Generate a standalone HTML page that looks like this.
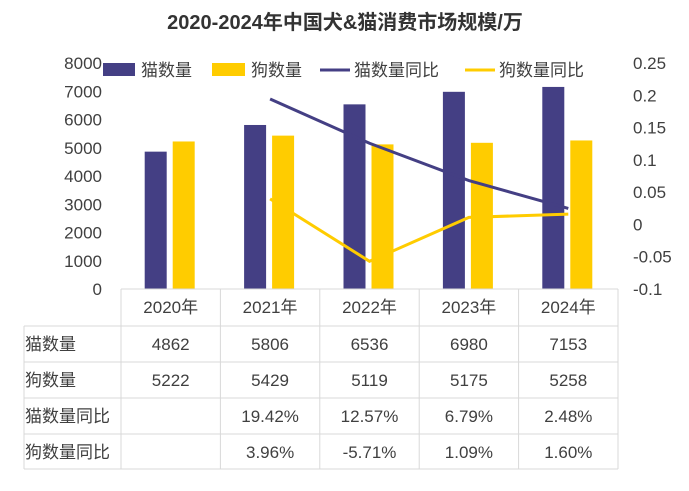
<!DOCTYPE html>
<html><head><meta charset="utf-8"><style>
body{margin:0;background:#fff;font-family:"Liberation Sans","Noto Sans CJK SC",sans-serif;}
svg text{font-family:"Liberation Sans","Noto Sans CJK SC",sans-serif;fill:#404040;}
</style></head><body>
<svg id="c" width="689" height="486" viewBox="0 0 689 486" xmlns="http://www.w3.org/2000/svg">
<text x="345" y="29" text-anchor="middle" font-size="20" font-weight="bold" style="fill:#333">2020-2024年中国犬&amp;猫消费市场规模/万</text>
<g>
<rect x="103" y="63" width="32" height="13" fill="#443F84"/>
<text x="141" y="76" font-size="17">猫数量</text>
<rect x="212" y="63" width="33" height="13" fill="#FFCC00"/>
<text x="251" y="76" font-size="17">狗数量</text>
<line x1="320" y1="70" x2="350" y2="70" stroke="#443F84" stroke-width="3"/>
<text x="354" y="76" font-size="17">猫数量同比</text>
<line x1="465" y1="70" x2="495" y2="70" stroke="#FFCC00" stroke-width="3"/>
<text x="499" y="76" font-size="17">狗数量同比</text>
</g>
<g id="plot"></g>
<g id="table"></g>
</svg>
<script>
const years=["2020年","2021年","2022年","2023年","2024年"];
const catCount=[4862,5806,6536,6980,7153];
const dogCount=[5222,5429,5119,5175,5258];
const catYoy=[null,0.1942,0.1257,0.0679,0.0248];
const dogYoy=[null,0.0396,-0.0571,0.0109,0.0160];
const leftTicks=[0,1000,2000,3000,4000,5000,6000,7000,8000];
const rightTicks=[-0.1,-0.05,0,0.05,0.1,0.15,0.2,0.25];
const catYoyLabels=["","19.42%","12.57%","6.79%","2.48%"];
const dogYoyLabels=["","3.96%","-5.71%","1.09%","1.60%"];
const NS="http://www.w3.org/2000/svg";
const tx0=121,colW=99.4,yBase=289,yTop=63;
const yL=v=>yBase-(v/8000)*(yBase-yTop);
const yR=v=>yBase-((v+0.1)/0.35)*(yBase-yTop);
const xC=i=>tx0+colW*(i+0.5);
function mk(t,a,p){const e=document.createElementNS(NS,t);for(const k in a)e.setAttribute(k,a[k]);p.appendChild(e);return e;}
const plot=document.getElementById('plot'),table=document.getElementById('table');
leftTicks.forEach(v=>{const e=mk('text',{x:102,y:yL(v)+6,'text-anchor':'end','font-size':17},plot);e.textContent=v;

});
rightTicks.forEach(v=>{const e=mk('text',{x:633,y:yR(v)+6,'font-size':17},plot);e.textContent=String(v);

});
years.forEach((y,i)=>{
const c=mk('rect',{x:xC(i)-26,y:yL(catCount[i]),width:22,height:yBase-yL(catCount[i]),fill:'#443F84'},plot);


const d=mk('rect',{x:xC(i)+2,y:yL(dogCount[i]),width:22,height:yBase-yL(dogCount[i]),fill:'#FFCC00'},plot);


});
function line(arr,col,name){const pts=[];arr.forEach((v,i)=>{if(v!==null)pts.push(xC(i)+','+yR(v));});
const l=mk('polyline',{points:pts.join(' '),fill:'none',stroke:col,'stroke-width':3},plot);

}
line(catYoy,'#443F84','cat-yoy-line');line(dogYoy,'#FFCC00','dog-yoy-line');
// table
const rowsY=[289,326,362,398,434,469];
const gl='#d9d9d9';
rowsY.forEach((y,r)=>{mk('line',{x1:r==0?tx0:24,y1:y,x2:tx0+colW*5,y2:y,stroke:gl,'stroke-width':1},table);});
for(let k=0;k<=5;k++)mk('line',{x1:tx0+colW*k,y1:289,x2:tx0+colW*k,y2:469,stroke:gl,'stroke-width':1},table);
mk('line',{x1:24,y1:326,x2:24,y2:469,stroke:gl},table);
const rowLabels=["猫数量","狗数量","猫数量同比","狗数量同比"];
rowLabels.forEach((t,r)=>{const e=mk('text',{x:25,y:rowsY[r+1]+24,'font-size':17},table);e.textContent=t;

});
const rowData=[catCount,dogCount,catYoyLabels,dogYoyLabels];
years.forEach((y,i)=>{
const h=mk('text',{x:xC(i),y:rowsY[0]+24,'text-anchor':'middle','font-size':17},table);h.textContent=y;


rowData.forEach((arr,r)=>{const e=mk('text',{x:xC(i),y:rowsY[r+1]+24,'text-anchor':'middle','font-size':17},table);e.textContent=arr[i];

});
});
</script>
</body></html>
